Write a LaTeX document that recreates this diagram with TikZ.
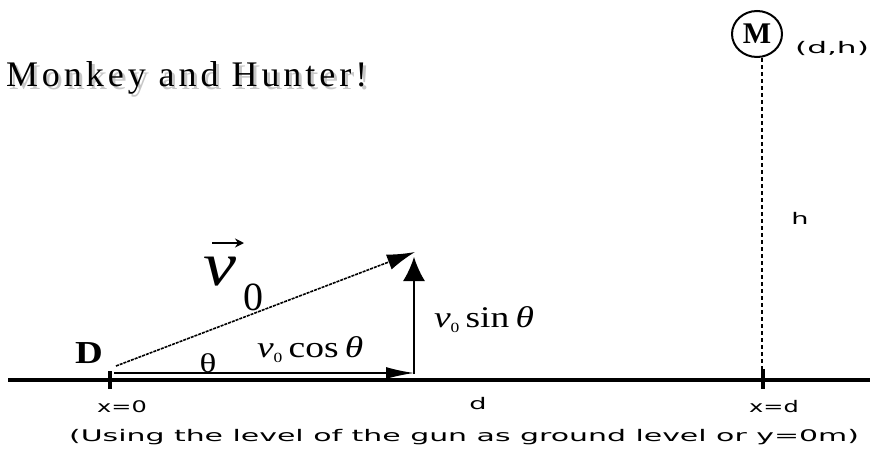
\documentclass[tikz,border=0pt]{standalone}
\usepackage{fontspec}
\setmainfont{Liberation Serif}
\newfontfamily\pixfont{DejaVu Sans}
\newfontfamily\titlefont[LetterSpace=11]{Liberation Serif}
\usetikzlibrary{arrows.meta,shapes.geometric}
\newcommand\pxl[2][1.5]{\scalebox{#1}[1]{\pixfont\fontsize{16}{16}\selectfont #2}}
\newcommand\wide[2][1.25]{\scalebox{#1}[1]{#2}}
\begin{document}
\begin{tikzpicture}[x=1pt,y=-1pt,
  lbl/.style={inner sep=0pt, outer sep=0pt},
  comp/.style={line width=1.4pt},
  tickmark/.style={line width=4pt},
]
\useasboundingbox (0,0) rectangle (870,455);
\fill[white] (0,0) rectangle (870,455);

% title with shadow
\node[lbl, anchor=base west, text=black!22] (titleshadow) at (9,89)
  {\titlefont\fontsize{36}{36}\selectfont Monkey and Hunter!};
\node[lbl, anchor=base west] (title) at (6,86)
  {\titlefont\fontsize{36}{36}\selectfont Monkey and Hunter!};

% ground
\coordinate (gl) at (8,380);
\coordinate (gr) at (870,380);
\draw[line width=4pt] (gl) -- (gr);
\coordinate (t0a) at (110,371); \coordinate (t0b) at (110,389);
\coordinate (tda) at (763,369); \coordinate (tdb) at (763,389);
\draw[tickmark] (t0a) -- (t0b);
\draw[tickmark] (tda) -- (tdb);

% monkey
\node[ellipse, draw, line width=2pt, minimum width=50pt, minimum height=46pt, inner sep=0pt,
  font=\bfseries\fontsize{30}{30}\selectfont] (M) at (757,34) {M};
\coordinate (dtop) at (762,58);
\coordinate (dbot) at (762,376);
\draw[line width=2.2pt, dash pattern=on 4pt off 3pt] (dtop) -- (dbot);

% vectors
\coordinate (O) at (114,373);
\coordinate (P) at (414,373);
\coordinate (Pv) at (414,374);
\coordinate (Q) at (414,257);
\coordinate (Ov) at (116,366);
\coordinate (R) at (415,252);
\draw[comp, -{Latex[length=28pt,width=12pt]}] (O) -- (P);
\draw[comp, -{Latex[length=24pt,width=22pt]}] (Pv) -- (Q);
\draw[line width=1.6pt, dash pattern=on 3pt off 1pt, -{Latex[length=28pt,width=16pt]}] (Ov) -- (R);

% labels
\node[lbl, anchor=base, font=\bfseries\fontsize{32}{32}\selectfont] (D) at (89,363) {\wide[1.2]{D}};
\node[lbl, anchor=base, font=\fontsize{27}{27}\selectfont] (theta) at (208,372) {\wide[1.3]{θ}};
\node[lbl, anchor=base west, font=\fontsize{30}{30}\selectfont] (vcos) at (257,357)
  {\wide{\textit{v}\raisebox{-5pt}{\fontsize{14}{14}\selectfont 0}\,cos\,\textit{θ}}};
\node[lbl, anchor=base west, font=\fontsize{30}{30}\selectfont] (vsin) at (434,327)
  {\wide{\textit{v}\raisebox{-5pt}{\fontsize{14}{14}\selectfont 0}\,sin\,\textit{θ}}};
\node[lbl, anchor=base west, font=\fontsize{62}{62}\selectfont] (vv) at (203,285)
  {\wide[1.2]{\textit{v}}};
\coordinate (va) at (212,243);
\coordinate (vb) at (244,243);
\draw[line width=2pt, -{Stealth[length=9pt,width=9pt]}] (va) -- (vb);
\node[lbl, anchor=base west, font=\fontsize{40}{40}\selectfont] (vsub) at (243,310) {0};

\node[lbl] (dh) at (832,48) {\pxl[1.95]{(d,h)}};
\node[lbl] (hl) at (800,218) {\pxl[1.7]{h}};
\node[lbl] (dl) at (478,404) {\pxl[1.7]{d}};
\node[lbl] (x0) at (122,407) {\pxl{x=0}};
\node[lbl] (xd) at (774,407) {\pxl{x=d}};
\node[lbl] (foot) at (464,437) {\pxl[1.87]{(Using the level of the gun as ground level or y=0m)}};
\end{tikzpicture}
\end{document}
